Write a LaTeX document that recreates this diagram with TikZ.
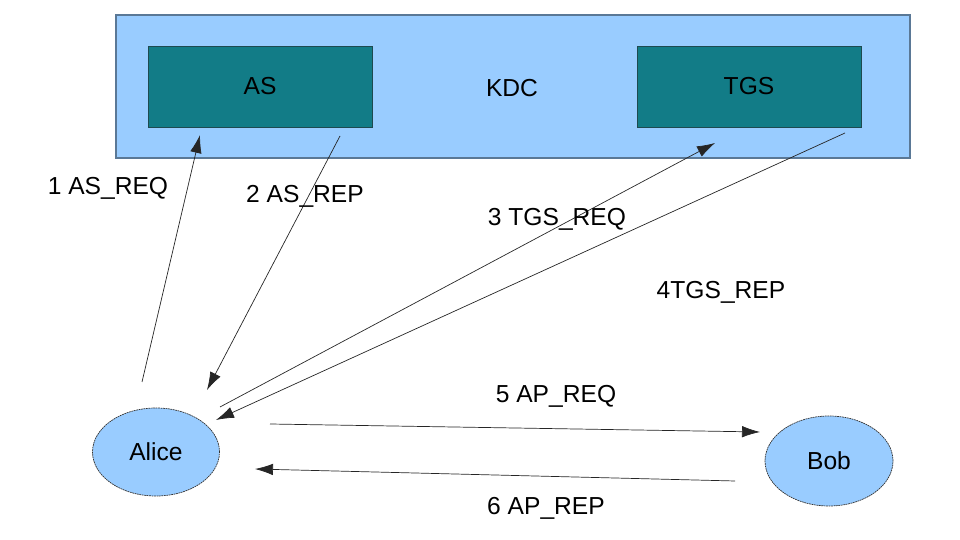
\documentclass[tikz,border=0pt]{standalone}
\usepackage{fontspec}
\setmainfont{Liberation Sans}
\usepackage{xcolor}
\usepackage{tikz}
\usetikzlibrary{shapes,arrows.meta,positioning,calc}
\definecolor{kdcblue}{HTML}{99CCFF}
\definecolor{kdcedge}{HTML}{5A7896}
\definecolor{teal}{HTML}{127C87}
\definecolor{tealedge}{HTML}{1E4A50}

\begin{document}
\begin{tikzpicture}[
    kdcbox/.style={rectangle, draw=kdcedge, fill=kdcblue, line width=0.6pt},
    server/.style={rectangle, draw=tealedge, fill=teal, minimum width=4.48cm, minimum height=1.62cm, font=\fontsize{14}{16}\selectfont},
    client/.style={ellipse, draw=black!80, dashed, dash pattern=on 1pt off 0.4pt, fill=kdcblue, font=\fontsize{14}{16}\selectfont},
    msg/.style={draw=black!85, line width=0.4pt, -{Latex[length=3.6mm,width=2.3mm]}},
    msglabel/.style={font=\fontsize{14}{16}\selectfont, inner sep=1pt}
]
    \useasboundingbox (0,0) rectangle (19.2,10.8);
    \node[kdcbox, minimum width=15.88cm, minimum height=2.86cm] (kdc) at (10.26,9.07) {};
    \node[font=\fontsize{14}{16}\selectfont] (kdclabel) at (10.24,9.04) {KDC};

    \node[server] (as) at (5.2,9.07) {AS};
    \node[server] (tgs) at (14.98,9.07) {TGS};

    \node[client, minimum width=2.54cm, minimum height=1.76cm] (alice) at (3.12,1.76) {Alice};
    \node[client, minimum width=2.56cm, minimum height=1.8cm] (bob) at (16.58,1.58) {Bob};

    % free ends of the message arrows
    \coordinate (req1a) at (2.84,3.16);
    \coordinate (req1b) at (4.0,8.1);
    \coordinate (rep2a) at (6.8,8.08);
    \coordinate (rep2b) at (4.14,3.0);
    \coordinate (req3a) at (4.4,2.66);
    \coordinate (req3b) at (14.3,7.94);
    \coordinate (rep4a) at (16.9,8.14);
    \coordinate (rep4b) at (4.32,2.4);
    \coordinate (req5a) at (5.4,2.32);
    \coordinate (req5b) at (15.2,2.16);
    \coordinate (rep6a) at (14.7,1.18);
    \coordinate (rep6b) at (5.1,1.42);

    \draw[msg] (req1a) -- (req1b);
    \draw[msg] (rep2a) -- (rep2b);
    \draw[msg] (req3a) -- (req3b);
    \draw[msg] (rep4a) -- (rep4b);
    \draw[msg] (req5a) -- (req5b);
    \draw[msg] (rep6a) -- (rep6b);

    \node[msglabel] (l1) at (2.16,7.04) {1 AS\_REQ};
    \node[msglabel] (l2) at (6.1,6.88) {2 AS\_REP};
    \node[msglabel] (l3) at (11.14,6.42) {3 TGS\_REQ};
    \node[msglabel] (l4) at (14.42,4.96) {4TGS\_REP};
    \node[msglabel] (l5) at (11.12,2.88) {5 AP\_REQ};
    \node[msglabel] (l6) at (10.92,0.64) {6 AP\_REP};
\end{tikzpicture}
\end{document}
